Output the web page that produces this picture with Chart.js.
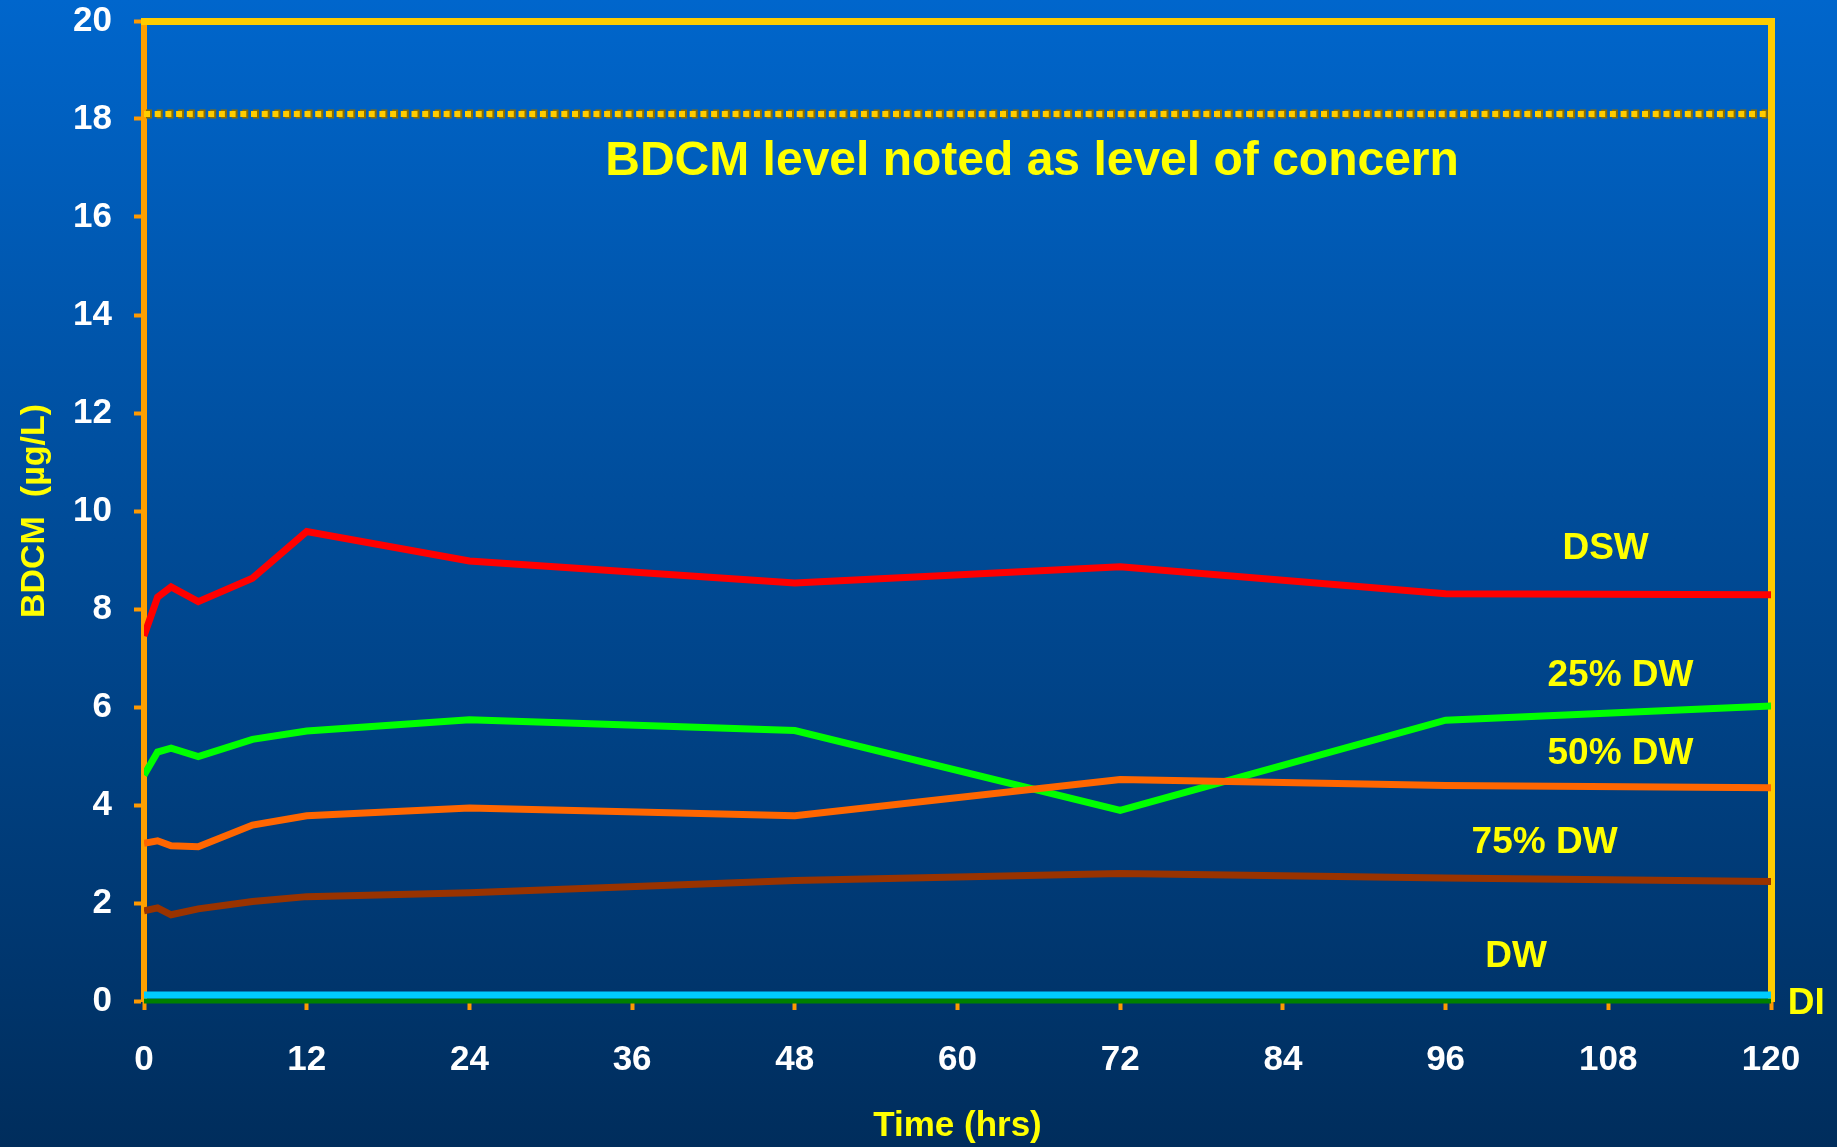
<!DOCTYPE html>
<html>
<head>
<meta charset="utf-8">
<title>BDCM over time</title>
<script src="https://cdn.jsdelivr.net/npm/chart.js@4/dist/chart.umd.min.js"></script>
<style>
  html, body { margin: 0; padding: 0; background: #003366; overflow: hidden; }
  #wrap { width: 1837px; height: 1147px; position: relative; }
  canvas { display: block; }
</style>
</head>
<body>
<div id="wrap"><canvas id="chart" width="1837" height="1147"></canvas></div>
<script>
// Sampling times (hours)
const hours = [0, 1, 2, 4, 8, 12, 24, 48, 72, 96, 120];

// BDCM concentration (µg/L) per water type
const dsw  = [7.45, 8.24, 8.45, 8.15, 8.63, 9.58, 8.98, 8.53, 8.86, 8.31, 8.29];
const dw25 = [4.61, 5.08, 5.16, 4.99, 5.34, 5.51, 5.74, 5.52, 3.89, 5.73, 6.02];
const dw50 = [3.22, 3.27, 3.17, 3.15, 3.59, 3.78, 3.94, 3.78, 4.52, 4.40, 4.35];
const dw75 = [1.84, 1.90, 1.76, 1.88, 2.03, 2.13, 2.21, 2.46, 2.60, 2.51, 2.44];
const dwOnly = [0.12, 0.12, 0.12, 0.12, 0.12, 0.12, 0.12, 0.12, 0.12, 0.12, 0.12];
const di   = [0, 0, 0, 0, 0, 0, 0, 0, 0, 0, 0];

// Level of concern
const concernLevel = 18.1;
const concernText = 'BDCM level noted as level of concern';

// Axis ticks
const xTicks = [0, 12, 24, 36, 48, 60, 72, 84, 96, 108, 120];
const yTicks = [0, 2, 4, 6, 8, 10, 12, 14, 16, 18, 20];

// Series names shown beside the lines
const seriesNames = ['DSW', '25% DW', '50% DW', '75% DW', 'DW', 'DI'];

const FONT = '"Liberation Sans", Arial, Helvetica, sans-serif';

function pts(ys) { return hours.map((h, i) => ({ x: h, y: ys[i] })); }
function flat(v) { return [{ x: xTicks[0], y: v }, { x: xTicks[xTicks.length - 1], y: v }]; }

// Label anchors in data units (hours, µg/L baseline)
const labelSpots = [
  { text: seriesNames[0], x: 107.8, y: 9.02 },
  { text: seriesNames[1], x: 108.9, y: 6.42 },
  { text: seriesNames[2], x: 108.9, y: 4.84 },
  { text: seriesNames[3], x: 103.3, y: 3.02 },
  { text: seriesNames[4], x: 101.2, y: 0.69 },
  { text: seriesNames[5], x: 122.6, y: -0.27 }
];

const background = {
  id: 'background',
  beforeDraw(chart) {
    const { ctx, width, height } = chart;
    const g = ctx.createLinearGradient(0, 0, 0, height);
    g.addColorStop(0, '#0066CC');
    g.addColorStop(0.45, '#004C99');
    g.addColorStop(1, '#002D5C');
    ctx.save();
    ctx.fillStyle = g;
    ctx.fillRect(0, 0, width, height);
    ctx.restore();
  }
};

const annotations = {
  id: 'annotations',
  afterDatasetsDraw(chart) {
    const { ctx } = chart;
    const xs = chart.scales.x, ys = chart.scales.y;
    ctx.save();
    ctx.fillStyle = '#FFFF00';
    ctx.textAlign = 'center';
    ctx.textBaseline = 'alphabetic';
    ctx.font = 'bold 48px ' + FONT;
    ctx.fillText(concernText, xs.getPixelForValue(65.5), ys.getPixelForValue(16.85));
    ctx.font = 'bold 37px ' + FONT;
    labelSpots.forEach(l => {
      ctx.fillText(l.text, xs.getPixelForValue(l.x), ys.getPixelForValue(l.y));
    });
    ctx.restore();
  }
};

const lineBase = {
  pointRadius: 0,
  tension: 0,
  fill: false,
  borderJoinStyle: 'miter',
  borderCapStyle: 'butt',
  borderWidth: 7,
  clip: { left: 0, top: 6, right: 0, bottom: 6 }
};

new Chart(document.getElementById('chart'), {
  type: 'line',
  data: {
    datasets: [
      { ...lineBase, label: 'concern shade', data: flat(concernLevel), borderColor: '#8C6E00', borderWidth: 9, borderDash: [6, 4.7], borderDashOffset: -2, order: 9 },
      { ...lineBase, label: 'concern', data: flat(concernLevel), borderColor: '#FFCC00', borderWidth: 6, borderDash: [6, 4.7], order: 8 },
      { ...lineBase, label: seriesNames[5], data: pts(di), borderColor: '#008000', borderWidth: 5, order: 7 },
      { ...lineBase, label: seriesNames[4], data: pts(dwOnly), borderColor: '#00CCFF', borderWidth: 7, order: 6 },
      { ...lineBase, label: seriesNames[3], data: pts(dw75), borderColor: '#993300', order: 5 },
      { ...lineBase, label: seriesNames[1], data: pts(dw25), borderColor: '#00FF00', order: 4 },
      { ...lineBase, label: seriesNames[2], data: pts(dw50), borderColor: '#FF6600', order: 3 },
      { ...lineBase, label: seriesNames[0], data: pts(dsw), borderColor: '#FF0000', order: 2 }
    ]
  },
  options: {
    responsive: false,
    animation: false,
    devicePixelRatio: 1,
    layout: { padding: { top: 21, right: 66, bottom: 0, left: 0 } },
    plugins: { legend: { display: false }, tooltip: { enabled: false } },
    scales: {
      x: {
        type: 'linear',
        position: 'bottom',
        min: xTicks[0],
        max: xTicks[xTicks.length - 1],
        afterBuildTicks: s => { s.ticks = xTicks.map(v => ({ value: v })); },
        afterFit: s => { s.height = 146; },
        ticks: { color: '#FFFFFF', font: { family: FONT, size: 35, weight: 'bold' }, padding: 29, maxRotation: 0, autoSkip: false },
        grid: { drawOnChartArea: false, drawTicks: true, tickLength: 9, tickWidth: 4, tickColor: '#FF9900' },
        border: { color: '#FFCC00', width: 2 },
        title: { display: true, text: 'Time (hrs)', color: '#FFFF00', font: { family: FONT, size: 35, weight: 'bold' }, padding: { top: 0, bottom: 0 } }
      },
      y: {
        type: 'linear',
        position: 'left',
        min: yTicks[0],
        max: yTicks[yTicks.length - 1],
        afterBuildTicks: s => { s.ticks = yTicks.map(v => ({ value: v })); },
        afterFit: s => { s.width = 144; s.paddingTop = 0; s.paddingBottom = 0; },
        ticks: { color: '#FFFFFF', font: { family: FONT, size: 35, weight: 'bold' }, padding: 22 },
        grid: { drawOnChartArea: false, drawTicks: true, tickLength: 10, tickWidth: 4, tickColor: '#FF9900' },
        border: { color: '#FFA000', width: 6 },
        title: { display: true, text: 'BDCM  (µg/L)', color: '#FFFF00', font: { family: FONT, size: 34, weight: 'bold' }, padding: { top: 14, bottom: 0 } }
      },
      xTop: {
        type: 'linear',
        position: 'top',
        min: xTicks[0],
        max: xTicks[xTicks.length - 1],
        afterFit: s => { s.height = 0; },
        ticks: { display: false },
        grid: { drawOnChartArea: false, drawTicks: false },
        border: { color: '#FFCC00', width: 7 }
      },
      yRight: {
        type: 'linear',
        position: 'right',
        min: yTicks[0],
        max: yTicks[yTicks.length - 1],
        afterFit: s => { s.width = 0; },
        ticks: { display: false },
        grid: { drawOnChartArea: false, drawTicks: false },
        border: { color: '#FFCC00', width: 7 }
      }
    }
  },
  plugins: [background, annotations]
});
</script>
</body>
</html>
